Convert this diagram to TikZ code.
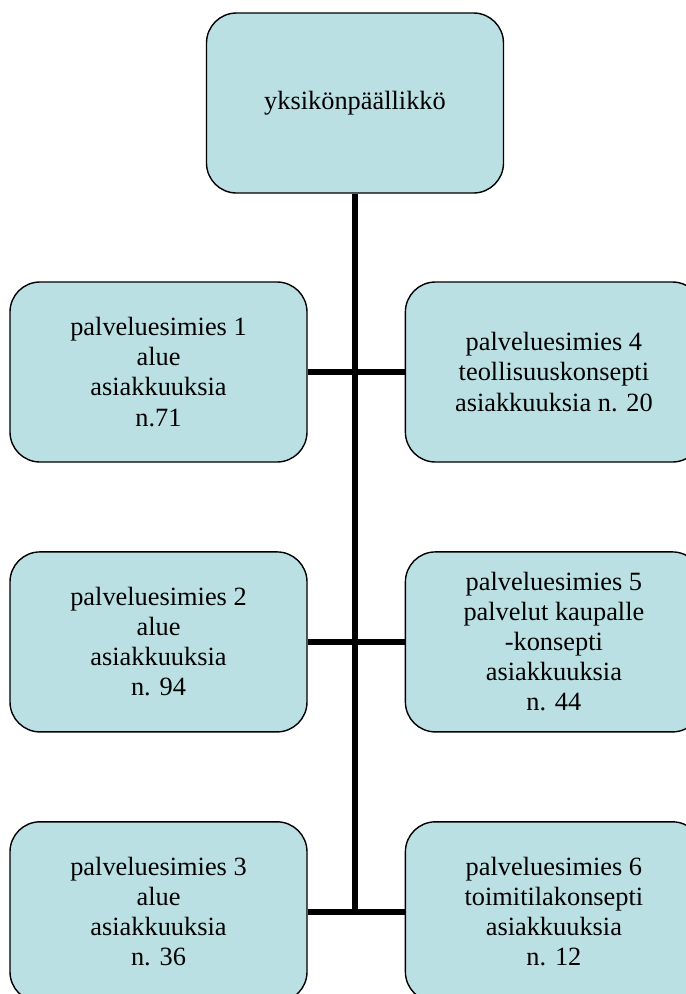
\documentclass[tikz,border=0pt]{standalone}
\usepackage{fontspec}
\setmainfont{Liberation Serif}
\usepackage{xcolor}
\definecolor{cFill}{HTML}{BBE0E3}
\definecolor{cEdge}{HTML}{000000}
\usepackage{tikz}
\usetikzlibrary{positioning}
\tikzset{
  node-unit/.style={draw=cEdge,line width=0.8pt,fill=cFill,
    rounded corners=0.6cm,minimum width=5.94cm,minimum height=3.6cm,
    align=center,inner sep=2pt,font=\fontsize{15}{17.1}\selectfont},
  % paksu musta yhdysviiva
  link/.style={line width=3.4pt,draw=cEdge},
}

\begin{document}
\begin{tikzpicture}[node distance=1.77cm and 1.94cm]
  \useasboundingbox (0,0) rectangle (13.72,-19.88);
  \clip (0,0) rectangle (13.72,-19.88);
  \node[node-unit] (chief) at (7.10,-2.06) {yksikönpäällikkö};
  \node[node-unit] (ps1) at (3.17,-7.44)
    {palveluesimies 1\\alue\\asiakkuuksia\\n.71};
  \node[node-unit,right=of ps1] (ps4)
    {palveluesimies 4\\teollisuuskonsepti\\asiakkuuksia n. 20};
  \node[node-unit,below=of ps1] (ps2)
    {palveluesimies 2\\alue\\asiakkuuksia\\n. 94};
  \node[node-unit,right=of ps2] (ps5)
    {palveluesimies 5\\palvelut kaupalle\\-konsepti\\asiakkuuksia\\n. 44};
  \node[node-unit,below=of ps2] (ps3)
    {palveluesimies 3\\alue\\asiakkuuksia\\n. 36};
  \node[node-unit,right=of ps3] (ps6)
    {palveluesimies 6\\toimitilakonsepti\\asiakkuuksia\\n. 12};
  \draw[link] (chief.south) -- (chief.south |- ps3.east);
  \draw[link] (ps1.east) -- (ps4.west);
  \draw[link] (ps2.east) -- (ps5.west);
  \draw[link] (ps3.east) -- (ps6.west);
\end{tikzpicture}
\end{document}
